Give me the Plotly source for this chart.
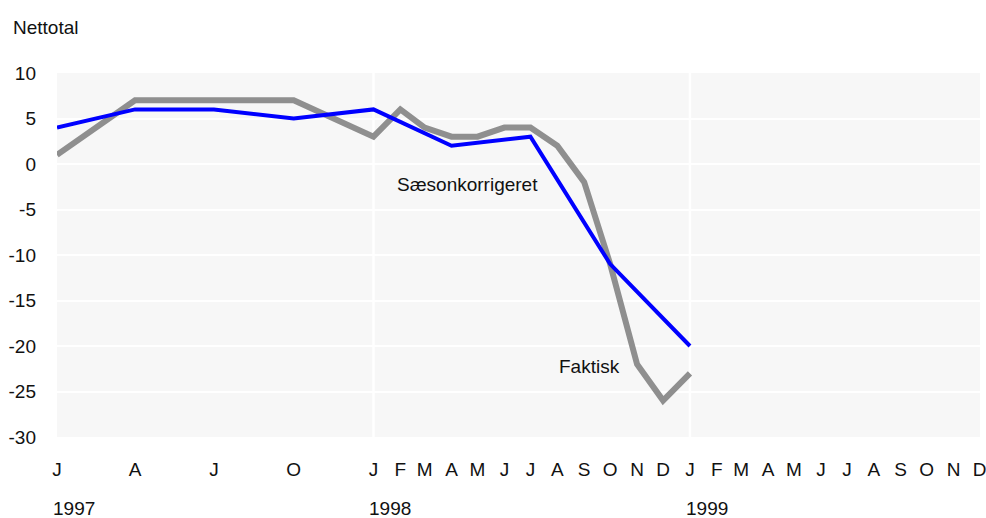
import plotly.graph_objects as go

# Data
saeson_dates = ["1997-01-01", "1997-04-01", "1997-07-01", "1997-10-01", "1998-01-01",
                "1998-04-01", "1998-07-01", "1998-10-01", "1999-01-01"]
saeson_vals = [4, 6, 6, 5, 6, 2, 3, -11, -20]

faktisk_dates = ["1997-01-01", "1997-04-01", "1997-07-01", "1997-10-01", "1998-01-01",
                 "1998-02-01", "1998-03-01", "1998-04-01", "1998-05-01", "1998-06-01",
                 "1998-07-01", "1998-08-01", "1998-09-01", "1998-10-01", "1998-11-01",
                 "1998-12-01", "1999-01-01"]
faktisk_vals = [1, 7, 7, 7, 3, 6, 4, 3, 3, 4, 4, 2, -2, -11, -22, -26, -23]

tick_dates = ["1997-01-01", "1997-04-01", "1997-07-01", "1997-10-01"] + \
    [f"1998-{m:02d}-01" for m in range(1, 13)] + [f"1999-{m:02d}-01" for m in range(1, 13)]
tick_text = ["J", "A", "J", "O"] + list("JFMAMJJASOND") * 2
year_labels = ["1997", "1998", "1999"]
year_dates = ["1997-01-01", "1998-01-01", "1999-01-01"]
y_ticks = [10, 5, 0, -5, -10, -15, -20, -25, -30]
y_tick_text = ["10", "5", "0", "-5", "-10", "-15", "-20", "-25", "-30"]

FONT = "Liberation Sans Narrow, Arial Narrow, Liberation Sans, Arial, sans-serif"
FS = 19

fig = go.Figure()
fig.add_trace(go.Scatter(x=faktisk_dates, y=faktisk_vals, mode="lines",
                         line=dict(color="#8f8f8f", width=6), name="Faktisk",
                         showlegend=False))
fig.add_trace(go.Scatter(x=saeson_dates, y=saeson_vals, mode="lines",
                         line=dict(color="#0000ff", width=4), name="Sæsonkorrigeret",
                         showlegend=False))

for d in ["1998-01-01", "1999-01-01"]:
    fig.add_shape(type="line", x0=d, x1=d, xref="x", yref="paper", y0=0, y1=1,
                  line=dict(color="white", width=2.5), layer="below")

annotations = [
    dict(text="Nettotal", xref="paper", yref="paper", x=0, y=1, xanchor="left",
         yanchor="middle", xshift=-46, yshift=46, showarrow=False,
         font=dict(size=FS, color="#111")),
    dict(text="Sæsonkorrigeret", xref="x", yref="y", x="1998-04-20", y=-2.3,
         showarrow=False, font=dict(size=FS, color="#111")),
    dict(text="Faktisk", xref="x", yref="y", x="1998-09-07", y=-22.3,
         showarrow=False, font=dict(size=FS, color="#111")),
]
for lab, d in zip(year_labels, year_dates):
    annotations.append(dict(text=lab, xref="x", yref="paper", x=d, y=0,
                            xanchor="left", yanchor="middle", xshift=-6, yshift=-71,
                            showarrow=False, font=dict(size=FS, color="#111")))

fig.update_layout(
    width=986, height=518,
    margin=dict(l=57, r=6, t=73, b=81),
    paper_bgcolor="white", plot_bgcolor="#f7f7f7",
    font=dict(family=FONT, size=FS, color="#111"),
    annotations=annotations,
    xaxis=dict(type="date", range=["1997-01-01", "1999-12-01 12:00"],
               tickmode="array", tickvals=tick_dates, ticktext=tick_text,
               showgrid=False, zeroline=False, showline=False, automargin=False,
               ticks="", ticklabelstandoff=19, ticklabeloverflow="allow",
               tickfont=dict(size=FS)),
    yaxis=dict(range=[-30, 10], tickmode="array", tickvals=y_ticks,
               ticktext=y_tick_text, automargin=False,
               showgrid=True, gridcolor="white", gridwidth=2,
               zeroline=True, zerolinecolor="white", zerolinewidth=2,
               showline=False, ticks="", ticklabelstandoff=20,
               tickfont=dict(size=FS)),
)

fig.write_html("out.html", config={"displayModeBar": False},
               post_script="document.body.style.margin='0';document.body.style.overflow='hidden';")
